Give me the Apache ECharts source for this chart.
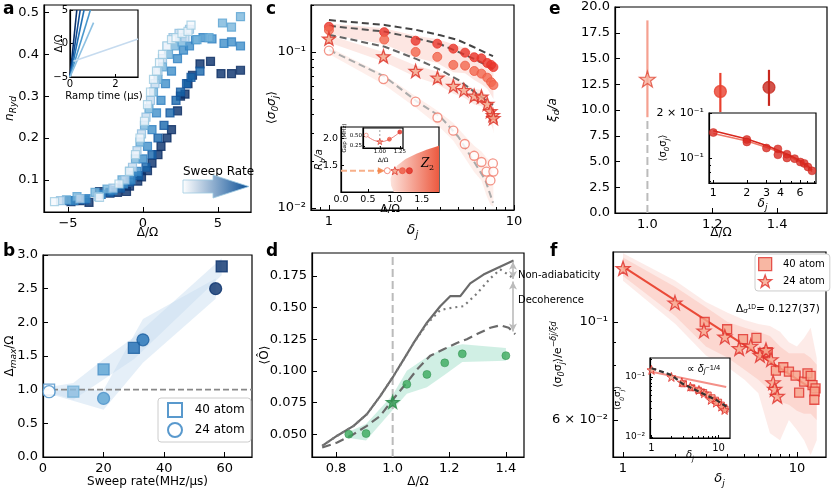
<!DOCTYPE html>
<html><head><meta charset="utf-8">
<script src="https://cdn.jsdelivr.net/npm/echarts@6/dist/echarts.min.js"></script>
<style>html,body{margin:0;padding:0;background:#fff}#c{width:831px;height:491px}</style>
</head><body><div id="c"></div>
<script>
// ================= DATA =================
// ---- panel a : n_Ryd vs Delta/Omega for 6 sweep rates ----
const aX1=[-5.9,-2.9,-1.6,-0.9,-0.5,-0.2,0.1,0.3,0.5,0.7,0.9,1.1,1.3,1.6,1.9,2.2,2.6,3.0,3.2];
const aY1=[0.048,0.058,0.09,0.12,0.16,0.2,0.24,0.28,0.31,0.34,0.36,0.38,0.40,0.42,0.435,0.44,0.45,0.455,0.47];
const aX2=[-5.5,-4.2,-3.0,-2.0,-1.2,-0.7,-0.4,-0.1,0.2,0.5,0.8,1.0,1.3,1.6,2.0,2.4,2.8,3.1];
const aY2=[0.05,0.055,0.06,0.08,0.1,0.13,0.17,0.21,0.25,0.29,0.33,0.36,0.39,0.42,0.44,0.45,0.44,0.46];
const aX3=[-5.1,-4.4,-3.2,-2.4,-1.4,-0.9,-0.5,-0.2,0.1,0.4,0.7,1.0,1.3,1.7,2.1,2.6,3.6,4.4,5.3,5.9,6.5];
const aY3=[0.052,0.06,0.07,0.078,0.1,0.12,0.15,0.19,0.23,0.27,0.31,0.34,0.37,0.40,0.42,0.43,0.435,0.44,0.475,0.465,0.49];
const aX4=[-4.6,-3.8,-2.8,-2.0,-1.3,-0.8,-0.4,0,0.3,0.6,0.9,1.2,1.5,1.9,2.3,2.7,3.1,3.5,4.0,4.6,5.4,5.9,6.5];
const aY4=[0.05,0.055,0.065,0.075,0.09,0.1,0.12,0.15,0.18,0.22,0.26,0.29,0.33,0.36,0.39,0.41,0.42,0.435,0.44,0.437,0.426,0.43,0.42];
const aX5=[-4.9,-3.9,-2.8,-2.2,-1.5,-0.9,-0.3,0.2,0.6,1.0,1.4,1.8,2.2,2.5,2.9,3.2,3.8];
const aY5=[0.05,0.052,0.065,0.07,0.08,0.095,0.11,0.13,0.16,0.2,0.23,0.26,0.29,0.31,0.33,0.345,0.36];
const aX6=[-4.8,-4.2,-3.6,-2.9,-2.2,-1.7,-1.1,-0.9,-0.35,-0.1,0.3,0.6,1.0,1.2,1.6,1.9,2.3,2.5,2.8,3.0,3.3,3.8,4.5,5.2,5.9,6.5];
const aY6=[0.048,0.05,0.046,0.072,0.068,0.07,0.072,0.085,0.097,0.107,0.122,0.14,0.16,0.18,0.2,0.22,0.265,0.3,0.305,0.33,0.35,0.377,0.383,0.354,0.354,0.362];
// inset a: ramp lines (time, Delta/Omega) start/end
const aRampT0=[0,0,0,0,0,0.15], aRampD0=[-5,-5,-5,-5,-5,-2.64];
const aRampT1=[0.3,0.45,0.62,0.9,1.04,3.0], aRampD1=[5,5,5,5,3.12,0.67];
// ---- panel b ----
const b40x=[2,10,20,30,59], b40y=[1.0,0.97,1.3,1.62,2.83];
const b24x=[2,20,33,57], b24y=[0.97,0.87,1.74,2.5];
const b40hi=[1.04,1.1,1.45,1.78,2.95], b40lo=[0.96,0.85,1.15,1.45,2.7];
const b24hi=[1.0,1.0,2.05,2.65], b24lo=[0.94,0.7,1.4,2.35];
const bRef=1.0;
// ---- panel c ----
const cXA=[1,1.99,2.94,3.85,4.70,5.44,6.10,6.67,7.17,7.52,7.74];
const cYA=[0.145,0.134,0.118,0.113,0.105,0.099,0.0925,0.091,0.085,0.0826,0.080];
const cYB=[0.138,0.120,0.100,0.093,0.0826,0.0817,0.0755,0.0726,0.0684,0.064,0.0614];
const cABhi=[0.152,0.142,0.127,0.121,0.112,0.106,0.098,0.096,0.091,0.089,0.086];
const cABlo=[0.13,0.112,0.092,0.085,0.074,0.073,0.066,0.062,0.058,0.053,0.05];
const cXC=[1,1.97,2.94,3.86,4.70,5.36,6.09,6.67,7.17,7.46,7.69,7.74];
const cYC=[0.1217,0.0938,0.0755,0.0684,0.0605,0.057,0.0524,0.0517,0.0464,0.0418,0.0394,0.0376];
const cChi=[0.128,0.1,0.082,0.075,0.067,0.063,0.058,0.057,0.052,0.048,0.045,0.044];
const cClo=[0.115,0.087,0.069,0.062,0.054,0.051,0.046,0.045,0.04,0.035,0.032,0.03];
const cXD=[1,1.97,2.94,3.86,4.70,5.42,6.09,6.67,7.1,7.46,7.69,7.74];
const cYD=[0.102,0.067,0.048,0.038,0.0313,0.0257,0.0216,0.0197,0.0171,0.015,0.0193,0.0171];
const cDhi=[0.107,0.072,0.052,0.042,0.035,0.029,0.025,0.023,0.021,0.02,0.021,0.02];
const cDlo=[0.097,0.062,0.044,0.034,0.027,0.021,0.017,0.015,0.012,0.0105,0.0102,0.0101];
const cLx=[1,2,3,4,5,6,7,7.7];
const cL1=[0.16,0.149,0.138,0.128,0.119,0.108,0.099,0.094];
const cL2=[0.147,0.135,0.122,0.112,0.1,0.091,0.083,0.078];
const cL3=[0.129,0.108,0.0897,0.0767,0.0662,0.0563,0.0493,0.0457];
const cL4=[0.103,0.0695,0.048,0.0385,0.0286,0.0203,0.0151,0.0108];
// inset c: phase diagram
const ciPtX=[0.86,1.0,1.14,1.27], ciPtY=[1.4,1.4,1.4,1.4];
const ciArrow=[[0,1.4],[0.75,1.4]];
const ciZ2x=[0.98,0.93,0.92,0.96,1.05,1.2,1.4,1.6,1.82,1.82];
const ciZ2y=[1.0,1.12,1.25,1.38,1.5,1.62,1.72,1.8,1.87,1.0];
// inner inset: gap
const ciiX=[0.83,1.0,1.12,1.25], ciiY=[0.52,0.36,0.42,0.6];
// ---- panel d ----
const dSx=[0.751,0.804,0.862,0.909,0.956,1.003,1.039,1.074,1.121,1.168,1.204,1.239,1.274,1.321,1.368,1.427];
const dSy=[0.0408,0.0488,0.0566,0.0658,0.080,0.0959,0.109,0.122,0.138,0.151,0.159,0.159,0.169,0.176,0.181,0.187];
const dTx=[0.751,0.804,0.862,0.909,0.956,1.003,1.039,1.074,1.121,1.168,1.215,1.25,1.298,1.345,1.38,1.415,1.427];
const dTy=[0.0408,0.0488,0.0566,0.0658,0.080,0.0959,0.109,0.122,0.137,0.148,0.150,0.151,0.161,0.173,0.180,0.175,0.172];
const dDx=[0.751,0.804,0.862,0.909,0.956,1.003,1.051,1.086,1.133,1.18,1.227,1.262,1.298,1.345,1.38,1.41,1.433];
const dDy=[0.0395,0.0434,0.05,0.0566,0.0645,0.078,0.091,0.101,0.112,0.117,0.122,0.125,0.129,0.134,0.136,0.134,0.129];
const dGx=[0.845,0.906,1.0,1.05,1.121,1.184,1.246,1.4];
const dGy=[0.05,0.0505,0.0754,0.0894,0.0972,0.1063,0.1134,0.112];
const dGhi=[0.052,0.058,0.081,0.1,0.111,0.118,0.121,0.118];
const dGlo=[0.047,0.045,0.069,0.082,0.087,0.097,0.107,0.108];
const dNonAd=[0.186,0.1725], dDecoh=[0.1705,0.131], dArrowX=1.425;
// ---- panel e ----
const eX=[1.0,1.225,1.375], eY=[13.0,11.8,12.2], eLo=[9.3,9.8,10.4], eHi=[18.7,13.6,13.9];
const eiX=[1,2,2,3,3.8,3.8,4.58,4.58,5.37,6.04,6.55,7.07,7.69];
const eiY=[0.148,0.133,0.128,0.1166,0.115,0.105,0.106,0.1,0.099,0.094,0.092,0.087,0.082];
const eiFx=[1,2,3,4,5,6,7,7.7];
const eiF1=[0.152,0.134,0.121,0.111,0.103,0.096,0.089,0.083];
const eiF2=[0.146,0.13,0.118,0.109,0.101,0.094,0.087,0.081];
// ---- panel f ----
const f24x=[1,1.99,2.92,3.85,4.66,5.43,6.13,6.64,7.1,7.3,7.45,7.71];
const f24y=[0.1323,0.1106,0.0956,0.0926,0.0872,0.0883,0.0842,0.0864,0.0823,0.073,0.0705,0.068];
const f40x=[2.95,3.97,4.9,5.85,6.37,6.8,7.57,8.35,9.0,9.83,10.3,11.0,11.5,12.0,12.3,12.8,12.65,12.6];
const f40y=[0.1,0.0963,0.0915,0.0921,0.085,0.0855,0.0776,0.079,0.0772,0.0756,0.0692,0.0733,0.0765,0.0755,0.072,0.0708,0.0696,0.0667];
const fFitX=[1,13], fFitY=[0.1334,0.0695];
const fBx=[1,2,3,4,5,6,7,8,9,10,11,12,13];
const fB1hi=[0.14,0.12,0.108,0.1,0.097,0.095,0.093,0.088,0.085,0.085,0.085,0.083,0.08];
const fB1lo=[0.127,0.103,0.088,0.083,0.078,0.074,0.07,0.066,0.065,0.063,0.062,0.062,0.06];
const fB2hi=[0.143,0.124,0.111,0.105,0.101,0.099,0.098,0.095,0.09,0.088,0.092,0.097,0.083];
const fB2lo=[0.124,0.099,0.084,0.079,0.074,0.069,0.056,0.054,0.06,0.057,0.054,0.05,0.054];
const fiSx=[1,1.98,2.83,3.8,5.1,6.1,7.7,9.2,11,12.3];
const fiSy=[0.131,0.1,0.0816,0.069,0.0607,0.0535,0.0414,0.0373,0.032,0.0282];
const fiQx=[3,4,5,6,7,8,9,10,11,12,12.5];
const fiQy=[0.077,0.066,0.06,0.055,0.05,0.045,0.041,0.038,0.034,0.031,0.029];
const fiDx=[1,1.98,2.83,5.1,9.2,13.1], fiDy=[0.14,0.108,0.0785,0.0569,0.0414,0.032];
const fiPx=[1,13], fiPy=[0.122,0.068];

// ================= BUILD =================
const FF='DejaVu Sans';
const STAR='path://M0,-10L2.35,-3.24L9.51,-3.09L3.8,1.24L5.88,8.09L0,4L-5.88,8.09L-3.8,1.24L-9.51,-3.09L-2.35,-3.24Z';
const grids=[], xAxis=[], yAxis=[], series=[];
function RICH(fs){const s=Math.round(fs*0.72);return{sub:{fontSize:s,verticalAlign:'bottom',lineHeight:s,fontFamily:FF,fontStyle:'italic'},
  sup:{fontSize:s,verticalAlign:'top',lineHeight:s,fontFamily:FF,fontStyle:'italic'},it:{fontStyle:'italic',fontSize:fs,fontFamily:FF}};}
function grid(l,t,w,h,z){grids.push({left:l,top:t,width:w,height:h,show:true,borderColor:'#000',borderWidth:1.2,backgroundColor:'#fff',z:z||0});return grids.length-1;}
function mk(gi,o){
  const fs=o.fs||13,nfs=o.nfs||12;
  return {gridIndex:gi,type:o.type||'value',logBase:10,min:o.min,max:o.max,position:o.pos,name:o.name||'',nameLocation:'middle',nameGap:o.gap||20,
    nameMoveOverlap:false,z:o.z||0,
    nameTextStyle:{color:'#000',fontSize:nfs,fontFamily:FF,lineHeight:nfs+5,rich:RICH(nfs),fontStyle:o.nit?'italic':'normal'},
    axisLine:{show:o.line!==false,onZero:false,lineStyle:{color:'#000',width:1.2}},splitLine:{show:false},
    axisTick:{show:true,inside:true,length:o.tl||5,customValues:o.ticks,lineStyle:{color:'#000',width:1}},
    axisLabel:{show:!!o.labels,customValues:o.labels||o.ticks,formatter:o.fmt,color:'#000',fontSize:fs,fontFamily:FF,margin:o.margin||5,hideOverlap:false}};
}
function X(gi,o){xAxis.push(mk(gi,Object.assign({pos:'bottom'},o)));return xAxis.length-1;}
function Y(gi,o){yAxis.push(mk(gi,Object.assign({pos:'left'},o)));return yAxis.length-1;}
function pts(xs,ys){return xs.map((x,k)=>[x,ys[k]]);}
function scat(xi,yi,xs,ys,o){return Object.assign({type:'scatter',xAxisIndex:xi,yAxisIndex:yi,data:pts(xs,ys),silent:true,z:5},o);}
function line(xi,yi,xs,ys,color,w,type,o){return Object.assign({type:'line',xAxisIndex:xi,yAxisIndex:yi,data:pts(xs,ys),symbol:'none',silent:true,z:4,
  lineStyle:{color:color,width:w,type:type||'solid'}},o);}
function band(xi,yi,xs,lo,hi,fill,z){return {type:'custom',xAxisIndex:xi,yAxisIndex:yi,silent:true,z:z||2,clip:true,data:[[xs[0],hi[0]]],
  renderItem:(p,api)=>{const P=[];for(let k=0;k<xs.length;k++)P.push(api.coord([xs[k],hi[k]]));for(let k=xs.length-1;k>=0;k--)P.push(api.coord([xs[k],lo[k]]));
   return {type:'polygon',shape:{points:P},style:{fill:fill}};}};}
const fix=n=>v=>(+v).toFixed(n);
const minus=v=>v<0?'−'+Math.abs(v):''+v;
const sup={'-1':'⁻¹','-2':'⁻²'};
const pw=v=>{const e=Math.floor(Math.log10(v)+1e-9);const m=Math.round(v/Math.pow(10,e));return (m===1?'':m+' × ')+'10'+sup[e];};
const logInt=v=>''+Math.round(v);

// ---- a ----
const gA=grid(41,5,210,207);
const xa=X(gA,{min:-6.6,max:7.2,ticks:[-5,0,5],labels:[-5,0,5],fmt:minus,name:'Δ/Ω',gap:12});
const ya=Y(gA,{min:0.023,max:0.518,ticks:[0.1,0.2,0.3,0.4,0.5],labels:[0.1,0.2,0.3,0.4,0.5],fmt:fix(1),name:'n{sub|Ryd}',gap:26,nit:true});
const aFill=['#f4f8fd','#c6dbef','#7ab6dc','#3f8fc9','#1766ad','#08306b'];
const aEdge=['#9ecae1','#8cbddf','#5aa2d2','#2f7fc0','#14559c','#0b2c62'];
[[aX6,aY6],[aX5,aY5],[aX4,aY4],[aX3,aY3],[aX2,aY2],[aX1,aY1]].forEach((s,k)=>{const i=5-k;
  series.push(scat(xa,ya,s[0],s[1],{symbol:'rect',symbolSize:8,itemStyle:{color:aFill[i],borderColor:aEdge[i],borderWidth:1.2}}));});
const gAi=grid(70,10,68,67,3);
const xai=X(gAi,{min:0,max:3,ticks:[0,2],labels:[0,2],fs:10,fmt:v=>''+v,name:'Ramp time (μs)',nfs:10,gap:12,tl:3,margin:2,z:3});
const yai=Y(gAi,{min:-5,max:5,ticks:[-5,0,5],labels:[-5,0,5],fs:10,fmt:minus,name:'Δ/Ω',nfs:10,gap:3,tl:3,margin:2,z:3});
const aRampC=['#08306b','#0d4a93','#2171b5','#4a98cd','#8cc0e2','#c6dbef'];
aRampT0.forEach((t,k)=>series.push(line(xai,yai,[t,aRampT1[k]],[aRampD0[k],aRampD1[k]],aRampC[k],1.6,'solid',{z:6})));

// ---- b ----
const gB=grid(41,255,211,204);
const xb=X(gB,{min:0,max:69,ticks:[0,20,40,60],labels:[0,20,40,60],fmt:v=>''+v,name:'Sweep rate(MHz/μs)',gap:16});
const yb=Y(gB,{min:0,max:3,ticks:[0,0.5,1,1.5,2,2.5,3],labels:[0,0.5,1,1.5,2,2.5,3],fmt:fix(1),name:'Δ{sub|max}/Ω',gap:25});
series.push(band(xb,yb,b40x,b40lo,b40hi,'rgba(198,219,239,0.45)'));
series.push(band(xb,yb,b24x,b24lo,b24hi,'rgba(198,219,239,0.45)'));
series.push(line(xb,yb,[0,69],[bRef,bRef],'#888',1.6,[6,3],{z:3}));
const b40c=['#f4f8fd','#8cbde0','#5aa2d2','#1f6db3','#08306b'], b40e=['#4a90c8','#6aaed6','#4a90c8','#1b5fa0','#08306b'];
const b24c=['#ffffff','#5aa2d2','#2171b5','#08306b'], b24e=['#4a90c8','#4a90c8','#1b5fa0','#08306b'];
series.push(Object.assign(scat(xb,yb,b40x,b40y,{symbol:'rect',symbolSize:11}),{data:b40x.map((x,k)=>({value:[x,b40y[k]],itemStyle:{color:b40c[k],borderColor:b40e[k],borderWidth:1.3}}))}));
series.push(Object.assign(scat(xb,yb,b24x,b24y,{symbol:'circle',symbolSize:12}),{data:b24x.map((x,k)=>({value:[x,b24y[k]],itemStyle:{color:b24c[k],borderColor:b24e[k],borderWidth:1.3}}))}));
series.push({type:'scatter',name:'b40',xAxisIndex:xb,yAxisIndex:yb,data:[]});
series.push({type:'scatter',name:'b24',xAxisIndex:xb,yAxisIndex:yb,data:[]});

// ---- c ----
const gC=grid(311,5,203,205);
const xc=X(gC,{type:'log',min:0.8,max:10,ticks:[1,10],labels:[1,10],fmt:logInt,name:'{it|δ}{sub|j}',gap:11,nfs:14,fs:13});
X(gC,{type:'log',min:0.8,max:10,ticks:[0.9,2,3,4,5,6,7,8,9],line:false,tl:3});
const yc=Y(gC,{type:'log',min:0.0097,max:0.2,ticks:[0.01,0.1],labels:[0.01,0.1],fmt:pw,name:'⟨{it|σ}{sub|0}{it|σ}{sub|j}⟩',gap:31,nfs:12});
Y(gC,{type:'log',min:0.0097,max:0.2,ticks:[0.02,0.03,0.04,0.05,0.06,0.07,0.08,0.09,0.2],line:false,tl:3});
series.push(band(xc,yc,cXA,cABlo,cABhi,'rgba(250,200,190,0.45)'));
series.push(band(xc,yc,cXC,cClo,cChi,'rgba(250,200,190,0.4)'));
series.push(band(xc,yc,cXD,cDlo,cDhi,'rgba(252,215,205,0.4)'));
series.push(line(xc,yc,cLx,cL1,'#444',2,[7,4]));
series.push(line(xc,yc,cLx,cL2,'#555',2,[7,4]));
series.push(line(xc,yc,cLx,cL3,'#666',2,[7,4]));
series.push(line(xc,yc,cLx,cL4,'#aaa',2,[7,4]));
series.push(scat(xc,yc,cXA,cYA,{symbol:'circle',symbolSize:9,itemStyle:{color:'#e8342a',borderColor:'#e8342a',borderWidth:1}}));
series.push(scat(xc,yc,cXA,cYB,{symbol:'circle',symbolSize:9,itemStyle:{color:'#f3684f',borderColor:'#ee5a44',borderWidth:1}}));
series.push(scat(xc,yc,cXC,cYC,{symbol:STAR,symbolSize:13,itemStyle:{color:'#f4a58a',borderColor:'#dc2e24',borderWidth:1.3}}));
series.push(scat(xc,yc,cXD,cYD,{symbol:'circle',symbolSize:9,itemStyle:{color:'#fff',borderColor:'#f07a6a',borderWidth:1.3}}));
const gCi=grid(341,127,98,65,3);
const xci=X(gCi,{min:0,max:1.82,ticks:[0,0.5,1,1.5],labels:[0,0.5,1,1.5],fmt:fix(1),fs:9.5,name:'Δ/Ω',nfs:11,gap:9,tl:3,margin:3,z:3});
const yci=Y(gCi,{min:1.0,max:2.22,ticks:[1.5,2],labels:[1.5,2],fmt:fix(1),fs:9.5,name:'R{sub|b}/a',nfs:10,gap:14,tl:3,margin:3,z:3,nit:true});
series.push({type:'custom',xAxisIndex:xci,yAxisIndex:yci,silent:true,z:6,clip:true,data:[[ciZ2x[0],ciZ2y[0]]],
  renderItem:(p,api)=>({type:'polygon',shape:{points:ciZ2x.map((x,k)=>api.coord([x,ciZ2y[k]]))},
   style:{fill:{type:'linear',x:0,y:0,x2:1,y2:0,colorStops:[{offset:0,color:'#fde3dc'},{offset:1,color:'#ec5a40'}]}}})});
series.push(line(xci,yci,[ciArrow[0][0],ciArrow[1][0]],[ciArrow[0][1],ciArrow[1][1]],'#f7b08a',2,[6,3],{z:7}));
series.push({type:'scatter',xAxisIndex:xci,yAxisIndex:yci,silent:true,z:7,symbol:'triangle',symbolSize:[7,7],symbolRotate:-90,
  data:[ciArrow[1]],itemStyle:{color:'#f27a3a'}});
series.push(Object.assign(scat(xci,yci,ciPtX,ciPtY,{z:8,symbolSize:6}),{data:ciPtX.map((x,k)=>({value:[x,ciPtY[k]],symbol:k===1?STAR:'circle',symbolSize:k===1?8:6,
  itemStyle:{color:['#fff','#f4a58a','#ee5540','#e02a20'][k],borderColor:['#f07060','#dc2e24','#ee5540','#e02a20'][k],borderWidth:1}}))}));
const gCii=grid(363,128,40,20,6);
const xcii=X(gCii,{min:0.79,max:1.29,ticks:[1,1.25],labels:[1,1.25],fmt:fix(2),fs:5.5,name:'Δ/Ω',nfs:6,gap:7,tl:2,margin:1,z:6});
const ycii=Y(gCii,{min:0.2,max:0.7,ticks:[0.25,0.5],labels:[0.25,0.5],fmt:fix(2),fs:5.5,name:'Gap (MHz)',nfs:5.5,gap:13,tl:2,margin:1,z:6});
series.push(line(xcii,ycii,[1,1],[0.2,0.7],'#888',0.8,[2,2],{z:9}));
series.push(line(xcii,ycii,ciiX,ciiY,'#e8605a',0.8,'solid',{z:9,smooth:true}));
series.push(Object.assign(scat(xcii,ycii,ciiX,ciiY,{z:10}),{data:ciiX.map((x,k)=>({value:[x,ciiY[k]],symbol:k===1?STAR:'circle',symbolSize:k===1?6:4,
  itemStyle:{color:['#fff','#f4a58a','#ee5540','#e02a20'][k],borderColor:['#f07060','#dc2e24','#ee5540','#e02a20'][k],borderWidth:0.8}}))}));

// ---- d ----
const gD=grid(312,253,212,205);
const xd=X(gD,{min:0.715,max:1.464,ticks:[0.8,1.0,1.2,1.4],labels:[0.8,1.0,1.2,1.4],fmt:fix(1),name:'Δ/Ω',gap:16});
const yd=Y(gD,{min:0.032,max:0.193,ticks:[0.05,0.075,0.1,0.125,0.15,0.175],labels:[0.05,0.075,0.1,0.125,0.15,0.175],fmt:fix(3),name:'⟨Ô⟩',gap:39});
series.push(band(xd,yd,dGx,dGlo,dGhi,'rgba(170,225,205,0.55)'));
series.push(line(xd,yd,[1,1],[0.032,0.193],'#bbb',2,[8,4],{z:3}));
series.push(line(xd,yd,dSx,dSy,'#6a6a6a',2.2,'solid'));
series.push(line(xd,yd,dTx,dTy,'#7a7a7a',2.2,[2,4]));
series.push(line(xd,yd,dDx,dDy,'#6a6a6a',2.2,[9,5]));
series.push(Object.assign(scat(xd,yd,dGx,dGy,{}),{data:dGx.map((x,k)=>({value:[x,dGy[k]],symbol:k===2?STAR:'circle',symbolSize:k===2?13:8,
  itemStyle:{color:k===2?'#2e9a50':'#3aaa5c',borderColor:'#2a8a48',borderWidth:k===2?1.2:0.6}}))}));
series.push({type:'line',xAxisIndex:xd,yAxisIndex:yd,data:[],silent:true,z:6,
  markLine:{silent:true,symbol:['arrow','arrow'],symbolSize:[6,8],label:{show:false},lineStyle:{color:'#bbb',width:1.6,type:'solid'},
   data:[[{coord:[dArrowX,dNonAd[0]]},{coord:[dArrowX,dNonAd[1]]}],[{coord:[dArrowX,dDecoh[0]]},{coord:[dArrowX,dDecoh[1]]}]]}});

// ---- e ----
const gE=grid(615,7,212,206);
const xe=X(gE,{min:0.9,max:1.554,ticks:[1.0,1.2,1.4],labels:[1.0,1.2,1.4],fmt:fix(1),name:'Δ/Ω',gap:11});
const ye=Y(gE,{min:0,max:20,ticks:[0,2.5,5,7.5,10,12.5,15,17.5,20],labels:[0,2.5,5,7.5,10,12.5,15,17.5,20],fmt:fix(1),name:'ξ{sub|d}/a',gap:54,nit:true});
series.push(line(xe,ye,[eX[0],eX[0]],[0,eLo[0]],'#bbb',2,[8,4],{z:3}));
const eCol=['#f5a090','#e8402e','#c8281e'];
eX.forEach((x,k)=>series.push(line(xe,ye,[x,x],[eLo[k],eHi[k]],eCol[k],2.2,'solid')));
series.push(Object.assign(scat(xe,ye,eX,eY,{}),{data:eX.map((x,k)=>({value:[x,eY[k]],symbol:k===0?STAR:'circle',symbolSize:k===0?16:12,
  itemStyle:{color:k===0?'#f8b3a0':eCol[k],borderColor:k===0?'#e04a38':eCol[k],borderWidth:1.2}}))}));
const gEi=grid(709,113,107,70,10);
const xei=X(gEi,{type:'log',min:0.915,max:8.35,ticks:[1,2,3,4,6],labels:[1,2,3,4,6],fmt:logInt,fs:11,name:'δ{sub|j}',nfs:12,gap:12,tl:3,z:10,nit:true});
X(gEi,{type:'log',min:0.915,max:8.35,ticks:[5,7,8],line:false,tl:2,z:10});
const yei=Y(gEi,{type:'log',min:0.068,max:0.2,ticks:[0.1,0.2],labels:[0.1,0.2],fmt:pw,fs:11,name:'⟨σ{sub|0}σ{sub|j}⟩',nfs:10,gap:38,tl:3,z:10});
Y(gEi,{type:'log',min:0.068,max:0.2,ticks:[0.07,0.08,0.09],line:false,tl:2,z:10});
series.push(line(xei,yei,eiFx,eiF2,'#f07868',1.6,'solid',{z:11}));
series.push(line(xei,yei,eiFx,eiF1,'#d8281e',1.6,'solid',{z:11}));
series.push(scat(xei,yei,eiX,eiY,{symbol:'circle',symbolSize:8,z:12,itemStyle:{color:'#d92b22',borderColor:'#c82018',borderWidth:0.6}}));

// ---- f ----
const gF=grid(613,252,213,205);
const xf=X(gF,{type:'log',min:0.876,max:14.7,ticks:[1,10],labels:[1,10],fmt:logInt,name:'δ{sub|j}',nfs:13,gap:13,nit:true});
X(gF,{type:'log',min:0.876,max:14.7,ticks:[2,3,4,5,6,7,8,9],line:false,tl:3});
const yf=Y(gF,{type:'log',min:0.0495,max:0.144,ticks:[0.06,0.1],labels:[0.06,0.1],fmt:pw,name:'⟨σ{sub|0}σ{sub|j}⟩/e{sup|−δj/ξd}',nfs:11,gap:47});
Y(gF,{type:'log',min:0.0495,max:0.144,ticks:[0.07,0.08,0.09],line:false,tl:3});
series.push(band(xf,yf,fBx,fB2lo,fB2hi,'rgba(250,190,180,0.3)'));
series.push(band(xf,yf,fBx,fB1lo,fB1hi,'rgba(250,190,180,0.45)'));
series.push(line(xf,yf,fFitX,fFitY,'#ea4a38',2,'solid'));
series.push(scat(xf,yf,f40x,f40y,{symbol:'rect',symbolSize:9,itemStyle:{color:'#f6a58c',borderColor:'#e0302a',borderWidth:1.3}}));
series.push(scat(xf,yf,f24x,f24y,{symbol:STAR,symbolSize:14,itemStyle:{color:'#f6a58c',borderColor:'#e0302a',borderWidth:1.3}}));
series.push({type:'scatter',name:'f40',xAxisIndex:xf,yAxisIndex:yf,data:[]});
series.push({type:'scatter',name:'f24',xAxisIndex:xf,yAxisIndex:yf,data:[]});
const gFi=grid(650,358,80,80,10);
const xfi=X(gFi,{type:'log',min:0.95,max:14.8,ticks:[1,10],labels:[1,10],fmt:logInt,fs:10,name:'δ{sub|j}',nfs:10,gap:10,tl:3,z:10,nit:true});
X(gFi,{type:'log',min:0.95,max:14.8,ticks:[2,3,4,5,6,7,8,9],line:false,tl:2,z:10});
const yfi=Y(gFi,{type:'log',min:0.0096,max:0.207,ticks:[0.01,0.1],labels:[0.01,0.1],fmt:pw,fs:9,name:'⟨σ{sub|0}σ{sub|j}⟩',nfs:9,gap:25,tl:3,z:10});
Y(gFi,{type:'log',min:0.0096,max:0.207,ticks:[0.02,0.03,0.04,0.05,0.06,0.07,0.08,0.09,0.2],line:false,tl:2,z:10});
series.push(line(xfi,yfi,fiPx,fiPy,'#f49088',2,'solid',{z:11}));
series.push(scat(xfi,yfi,fiQx,fiQy,{symbol:'rect',symbolSize:6,z:12,itemStyle:{color:'#f6a58c',borderColor:'#e0302a',borderWidth:1}}));
series.push(scat(xfi,yfi,fiSx,fiSy,{symbol:STAR,symbolSize:9,z:12,itemStyle:{color:'#f6a58c',borderColor:'#e0302a',borderWidth:1}}));
series.push(line(xfi,yfi,fiDx,fiDy,'#333',2.2,[5,3],{z:13}));

// ---- graphics (text, arrow, panel letters) ----
const T=(x,y,t,fs,o)=>({type:'text',left:x,top:y,z:100,style:Object.assign({text:t,fontSize:fs,fontFamily:FF,fill:'#000'},o||{})});
const graphic=[
  T(3,1,'a',17,{fontWeight:'bold'}),T(3,243,'b',17,{fontWeight:'bold'}),T(266,1,'c',17,{fontWeight:'bold'}),
  T(266,243,'d',17,{fontWeight:'bold'}),T(549,1,'e',17,{fontWeight:'bold'}),T(550,243,'f',17,{fontWeight:'bold'}),
  T(183,166,'Sweep Rate',12),
  {type:'polygon',z:100,shape:{points:[[183,180],[213,180],[213,175],[249,186.5],[213,198],[213,193],[183,193]]},
    style:{fill:{type:'linear',x:0,y:0,x2:1,y2:0,colorStops:[{offset:0,color:'#ffffff'},{offset:1,color:'#0a4f96'}]},stroke:'#9ecae1',lineWidth:0.8}},
  T(518,270,'Non-adiabaticity',10),T(518,295,'Decoherence',10),
  T(736,304,'Δ{sub|σ}{sup|1D}= 0.127(37)',10.5,{rich:{sub:{fontSize:7.5,verticalAlign:'bottom',lineHeight:7,fontStyle:'italic'},sup:{fontSize:6.5,verticalAlign:'top',lineHeight:6}}}),
  T(687,364,'∝ {i|δ}{sub|j}{sup|−1/4}',10.5,{rich:{i:{fontStyle:'italic',fontSize:10.5},sub:{fontSize:7.5,verticalAlign:'bottom',lineHeight:7,fontStyle:'italic'},sup:{fontSize:7.5,verticalAlign:'top',lineHeight:7}}}),
  T(421,158,'Z',12,{fontStyle:'italic',fontFamily:'DejaVu Serif'}),T(429,164,'2',8,{fontFamily:'DejaVu Serif'})
];

const legendBase={orient:'vertical',itemWidth:14,itemHeight:14,itemGap:4,borderColor:'#ccc',borderWidth:1,borderRadius:3,backgroundColor:'#fff',
  textStyle:{fontSize:12,fontFamily:FF,color:'#000'},selectedMode:false,z:50};
const legend=[
  Object.assign({},legendBase,{left:158,top:398,padding:[4,6,4,9],formatter:n=>({b40:'  40 atom',b24:'  24 atom'})[n],
    data:[{name:'b40',icon:'rect',itemStyle:{color:'#fff',borderColor:'#2f7fc0',borderWidth:2}},
          {name:'b24',icon:'circle',itemStyle:{color:'#fff',borderColor:'#2f7fc0',borderWidth:2}}]}),
  Object.assign({},legendBase,{left:755,top:254,padding:[3,5,3,3],itemWidth:13,itemHeight:13,itemGap:3,textStyle:{fontSize:10,fontFamily:FF,color:'#000'},
    formatter:n=>({f40:'  40 atom',f24:'  24 atom'})[n],
    data:[{name:'f40',icon:'rect',itemStyle:{color:'#f6a58c',borderColor:'#e0302a',borderWidth:1.3}},
          {name:'f24',icon:STAR,itemStyle:{color:'#f6a58c',borderColor:'#e0302a',borderWidth:1.3}}]})
];

const chart=echarts.init(document.getElementById('c'),null,{renderer:'canvas'});
chart.setOption({animation:false,backgroundColor:'#fff',grid:grids,xAxis:xAxis,yAxis:yAxis,series:series,graphic:graphic,legend:legend});
</script></body></html>
